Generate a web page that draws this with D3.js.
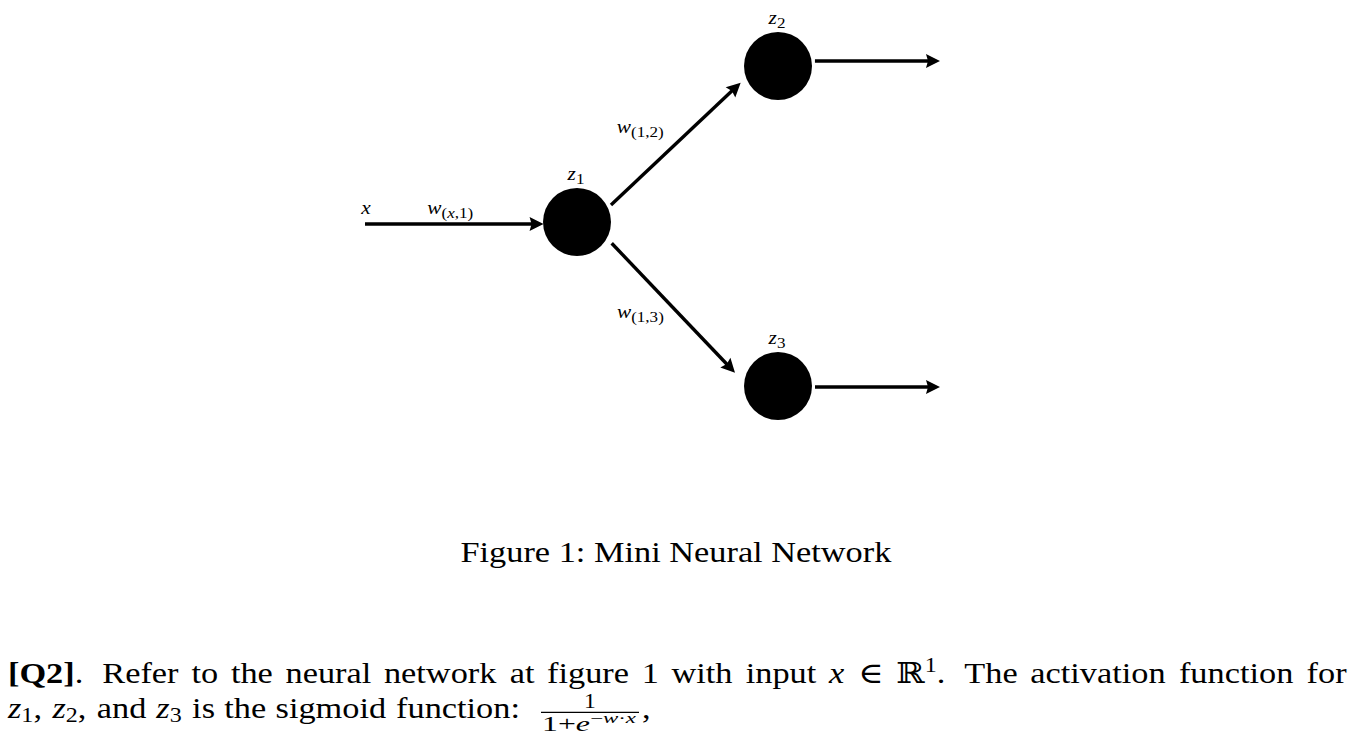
<!DOCTYPE html>
<html>
<head>
<meta charset="utf-8">
<script src="https://cdn.jsdelivr.net/npm/d3@7"></script>
<style>
  body { margin: 0; background: #fff; }
  svg { display: block; }
</style>
</head>
<body>
<svg width="1355" height="740"></svg>
<script>
// ---- data ----
const nodeNames  = ["x", "z1", "z2", "z3", "y2", "y3"];
const nodeLayer  = [0, 1, 2, 2, 3, 3];
const nodeRow    = [1.012, 1, 0, 2, -0.032, 2.006];
const nodeShown  = [false, true, true, true, false, false];
const nodeLabels = ["$x$", "$z_1$", "$z_2$", "$z_3$", "", ""];

const edgeSource = ["x", "z1", "z1", "z2", "z3"];
const edgeTarget = ["z1", "z2", "z3", "y2", "y3"];
const edgeLabels = ["$w_{(x,1)}$", "$w_{(1,2)}$", "$w_{(1,3)}$", "", ""];

const caption = "Figure 1: Mini Neural Network";
const line1 = ["**[Q2]**.", "Refer", "to", "the", "neural", "network", "at", "figure", "1",
               "with", "input", "$x$", "$∈$", "$ℝ^1$.", "The", "activation", "function", "for"];
const line2 = ["$z_1,$", "$z_2$,", "and", "$z_3$", "is", "the", "sigmoid", "function:"];
const fracNum = "1";
const fracDen = "$1+e^{−w·x}$";

// ---- layout ----
const R = 34;
const xScale = d3.scaleLinear().domain([0, 1, 2, 3]).range([365, 577, 778, 940]);
const yScale = d3.scaleLinear().domain([0, 1, 2]).range([66, 222, 386]);
// [startAngle, startDist, endAngle, endDist] per edge
const edgeAnchor = [[0, 0, 176.6, 33.5], [-26.6, 38, 155.9, 40.9], [31.5, 40.7, -162.8, 45],
                    [-7.7, 37.3, 180, 0], [1.5, 37, 180, 0]];
const labelOffset = [[-27, -10], [-59, -11], [-56.4, 10.5], [0, 0], [0, 0]];

const serif = "'Liberation Serif', 'Times New Roman', serif";
const svg = d3.select("svg");

// tiny TeX-ish parser: letters italic inside $..$, _ sub, ^ sup, **bold**
const parseMath = (s, out, pos) => {
    let i = 0;
    while (i < s.length) {
        const c = s[i];
        if (c === "_" || c === "^") {
            i++;
            let grp;
            if (s[i] === "{") { const j = s.indexOf("}", i); grp = s.slice(i + 1, j); i = j + 1; }
            else { grp = s[i]; i++; }
            parseMath(grp, out, c === "_" ? "sub" : "sup");
            continue;
        }
        out.push({ t: c, i: /[a-zA-Z]/.test(c), b: false, pos: pos, f: /[ℝ∈]/.test(c) });
        i++;
    }
};

const parseText = (str) => {
    const out = [];
    str.split("$").forEach((part, k) => {
        if (k % 2 === 1) { parseMath(part, out, "base"); return; }
        part.split("**").forEach((p, m) => {
            [...p].forEach(c => out.push({ t: c, i: false, b: m % 2 === 1, pos: "base", f: false }));
        });
    });
    // merge runs with same style
    const merged = [];
    out.forEach(s => {
        const last = merged[merged.length - 1];
        if (last && last.i === s.i && last.b === s.b && last.pos === s.pos && last.f === s.f) last.t += s.t;
        else merged.push({ ...s });
    });
    return merged;
};

const rich = (parent, str, size, opt = {}) => {
    const subShift = opt.subShift ?? 0.15, supShift = opt.supShift ?? 0.38, scriptScale = opt.scriptScale ?? 0.7;
    const t = parent.append("text")
        .attr("font-family", serif)
        .attr("font-size", size)
        .attr("fill", "#000");
    let shift = 0;
    parseText(str).forEach(s => {
        const target = s.pos === "sub" ? size * subShift : s.pos === "sup" ? -size * supShift : 0;
        const sp = t.append("tspan").text(s.t).attr("dy", target - shift);
        shift = target;
        if (s.pos !== "base") sp.attr("font-size", size * scriptScale);
        if (s.i) sp.attr("font-style", "italic");
        if (s.b) sp.attr("font-weight", "bold");
        if (s.f) sp.attr("font-family", "'DejaVu Serif', 'DejaVu Sans', serif");
    });
    return t;
};

// ---- caption (also calibrates the horizontal stretch used for all text) ----
const textG = svg.append("g");
const bodySize = 29;

const capText = rich(textG, caption, bodySize);
const capW0 = capText.node().getComputedTextLength();
const capWidth = 431;
const sx = capWidth / capW0;   // stretch to match the wider TeX font
capText.attr("transform", `translate(${676 - capWidth / 2},562) scale(${sx},1)`);

// ---- diagram ----
const nodes = nodeNames.map((name, k) => ({
    name, x: xScale(nodeLayer[k]), y: yScale(nodeRow[k]), shown: nodeShown[k], label: nodeLabels[k]
}));
const byName = Object.fromEntries(nodes.map(n => [n.name, n]));
const rad = a => a * Math.PI / 180;

const edges = edgeSource.map((src, k) => {
    const a = byName[src], b = byName[edgeTarget[k]];
    const [a0, d0, a1, d1] = edgeAnchor[k];
    const s = [a.x + d0 * Math.cos(rad(a0)), a.y + d0 * Math.sin(rad(a0))];
    const e = [b.x + d1 * Math.cos(rad(a1)), b.y + d1 * Math.sin(rad(a1))];
    const len = Math.hypot(e[0] - s[0], e[1] - s[1]);
    const u = [(e[0] - s[0]) / len, (e[1] - s[1]) / len];
    return { s, e, u, angle: Math.atan2(u[1], u[0]) * 180 / Math.PI, label: edgeLabels[k], off: labelOffset[k] };
});

const diagram = svg.append("g");

diagram.selectAll("line.edge")
    .data(edges)
    .enter()
    .append("line")
    .attr("class", "edge")
    .attr("x1", d => d.s[0])
    .attr("y1", d => d.s[1])
    .attr("x2", d => d.e[0] - d.u[0] * 10)
    .attr("y2", d => d.e[1] - d.u[1] * 10)
    .attr("stroke", "#000")
    .attr("stroke-width", 3.4);

diagram.selectAll("path.head")
    .data(edges)
    .enter()
    .append("path")
    .attr("class", "head")
    .attr("d", "M0,0 L-14,-7 L-12,0 L-14,7 Z")
    .attr("transform", d => `translate(${d.e[0]},${d.e[1]}) rotate(${d.angle})`)
    .attr("fill", "#000");

diagram.selectAll("circle.node")
    .data(nodes.filter(n => n.shown))
    .enter()
    .append("circle")
    .attr("class", "node")
    .attr("cx", d => d.x)
    .attr("cy", d => d.y)
    .attr("r", R)
    .attr("fill", "#000");

const labelSize = 18;
const labelOpt = { subShift: 0.22, scriptScale: 0.8 };
nodes.filter(n => n.label).forEach(n => {
    rich(diagram, n.label, labelSize, labelOpt)
        .attr("text-anchor", "middle")
        .attr("transform", `translate(${n.x + (n.shown ? -1 : 1)},${n.y - (n.shown ? R + 8 : 10)}) scale(${sx},1)`);
});
edges.filter(e => e.label).forEach(e => {
    const lx = (e.s[0] + e.e[0]) / 2 + e.off[0];
    const ly = (e.s[1] + e.e[1]) / 2 + e.off[1];
    rich(diagram, e.label, labelSize, labelOpt)
        .attr("transform", `translate(${lx},${ly}) scale(${sx},1)`);
});

// ---- body text ----
const justify = (words, x0, x1, baseline) => {
    const els = words.map(w => rich(textG, w, bodySize));
    const widths = els.map(el => el.node().getBBox().width * sx);
    const weights = words.slice(0, -1).map(w => /[.]$/.test(w) ? 1.5 : 1);
    const gap = (x1 - x0 - d3.sum(widths)) / d3.sum(weights);
    let x = x0;
    els.forEach((el, k) => {
        el.attr("transform", `translate(${x},${baseline}) scale(${sx},1)`);
        x += widths[k] + (weights[k] || 0) * gap;
    });
    return x;
};

justify(line1, 8, 1347, 683);
justify(line2, 8, 520, 718);

// sigmoid fraction
const fx = 541;
const denWidth = 95;
const den = rich(textG, fracDen, 20, { supShift: 0.42, scriptScale: 0.72 });
const denSx = denWidth / den.node().getBBox().width;
den.attr("transform", `translate(${fx + 1},731) scale(${denSx},1)`);
const barW = denWidth + 3;
textG.append("line")
    .attr("x1", fx).attr("x2", fx + barW)
    .attr("y1", 712.3).attr("y2", 712.3)
    .attr("stroke", "#000").attr("stroke-width", 1.2);
rich(textG, fracNum, 20)
    .attr("text-anchor", "middle")
    .attr("transform", `translate(${fx + barW / 2},708) scale(${sx},1)`);
rich(textG, ",", bodySize)
    .attr("transform", `translate(${fx + barW + 3},718) scale(${sx},1)`);
</script>
</body>
</html>
